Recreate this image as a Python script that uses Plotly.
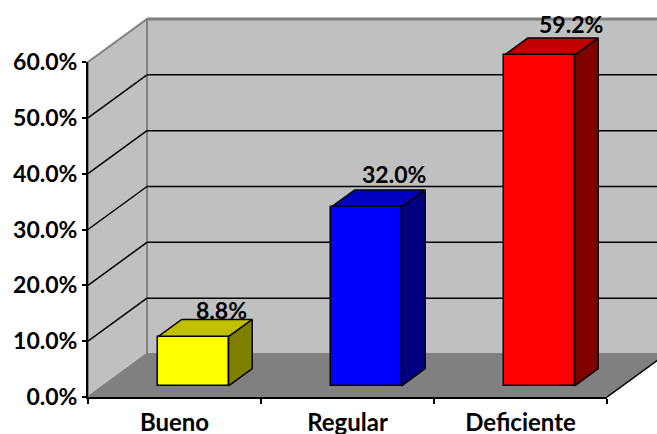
import plotly.graph_objects as go

categories = ["Bueno", "Regular", "Deficiente"]
values = [8.8, 32.0, 59.2]
labels = ["8.8%", "32.0%", "59.2%"]
front_colors = ["#FFFF00", "#0000FF", "#FF0000"]
top_colors = ["#C0C000", "#0000C0", "#C00000"]
side_colors = ["#808000", "#000080", "#800000"]
gridvals = [10, 20, 30, 40, 50, 60]
ticks = [0, 10, 20, 30, 40, 50, 60]
ticktext = ["0.0%", "10.0%", "20.0%", "30.0%", "40.0%", "50.0%", "60.0%"]

W, H = 657, 434
LEFT, RIGHT, BOTTOM, TOP = 88, 607, 397, 62
ux = (RIGHT - LEFT) / 3
uy = (BOTTOM - TOP) / 60
DX, DY = 59 / ux, 43 / uy
BAR_W = 70.5 / ux
BAR_SHIFT = 3.5 / ux
D0, D1 = 0.26, 0.66
FONT = "Lato"
TXT = "#000000"
EDGE = "#808080"


def P(c, v, d):
    return c + d * DX, v + d * DY


def poly(points, fill, line="#000000", lw=1.5):
    xs = [p[0] for p in points] + [points[0][0]]
    ys = [p[1] for p in points] + [points[0][1]]
    return go.Scatter(x=xs, y=ys, mode="lines", fill="toself", fillcolor=fill,
                      line=dict(color=line, width=lw), hoverinfo="skip", showlegend=False,
                      xaxis="x", yaxis="y")


def seg(a, b, color, lw):
    return go.Scatter(x=[a[0], b[0]], y=[a[1], b[1]], mode="lines",
                      line=dict(color=color, width=lw), hoverinfo="skip", showlegend=False,
                      xaxis="x", yaxis="y")


fig = go.Figure()
# walls and floor
fig.add_trace(poly([P(-0.5, 0, 1), P(2.5, 0, 1), P(2.5, 60, 1), P(-0.5, 60, 1)], "#C0C0C0", EDGE, 2))
fig.add_trace(poly([P(-0.5, 0, 0), P(-0.5, 0, 1), P(-0.5, 60, 1), P(-0.5, 60, 0)], "#C0C0C0", EDGE, 2))
for g in gridvals[:-1]:
    fig.add_trace(seg(P(-0.5, g, 0), P(-0.5, g, 1), "#000000", 1.5))
    fig.add_trace(seg(P(-0.5, g, 1), P(2.5, g, 1), "#000000", 1.5))
fig.add_trace(poly([P(-0.5, 0, 0), P(2.5, 0, 0), P(2.5, 0, 1), P(-0.5, 0, 1)], "#808080", EDGE, 1.5))
fig.add_trace(seg(P(2.5, 0, 0), P(2.5, 0, 1), "#000000", 1.5))
fig.add_trace(seg(P(-0.5, 60, 1), P(2.5, 60, 1), EDGE, 3))

# bar depth faces
for i, v in enumerate(values):
    l, r = i + BAR_SHIFT - BAR_W / 2, i + BAR_SHIFT + BAR_W / 2
    fig.add_trace(poly([P(l, v, D0), P(r, v, D0), P(r, v, D1), P(l, v, D1)], top_colors[i]))
    fig.add_trace(poly([P(r, 0, D0), P(r, 0, D1), P(r, v, D1), P(r, v, D0)], side_colors[i]))

# category axis and value axis with their labels
fig.add_trace(go.Scatter(x=categories, y=values, mode="none", hoverinfo="skip", showlegend=False,
                         xaxis="x2", yaxis="y2"))

# front faces, on an overlay above the depth faces
fig.add_trace(go.Bar(
    x=list(range(len(categories))), y=values, base=[D0 * DY] * 3, width=BAR_W,
    offset=D0 * DX + BAR_SHIFT - BAR_W / 2,
    marker=dict(color=front_colors, line=dict(color="#000000", width=1.5)),
    hoverinfo="skip", showlegend=False, xaxis="x3", yaxis="y3",
))

label_dx = [8, 8, 12]
label_dy = [-1, 6, 4]
for i, v in enumerate(values):
    x, y = P(i, v, D1)
    fig.add_annotation(x=x, y=y, xref="x", yref="y", text=labels[i], showarrow=False,
                       xanchor="center", yanchor="bottom", xshift=label_dx[i], yshift=label_dy[i] - 6,
                       font=dict(family=FONT, size=23, color=TXT, weight="bold"))

xr = [(0 - LEFT) / ux - 0.5, (W - LEFT) / ux - 0.5]
yr = [(BOTTOM - H) / uy, BOTTOM / uy]
fig.update_layout(
    width=W, height=H, autosize=False, margin=dict(l=0, r=0, t=0, b=0, pad=0, autoexpand=False),
    paper_bgcolor="#FFFFFF", plot_bgcolor="rgba(0,0,0,0)", bargap=0,
    xaxis=dict(domain=[0, 1], range=xr, visible=False, fixedrange=True),
    yaxis=dict(domain=[0, 1], range=yr, visible=False, fixedrange=True),
    xaxis3=dict(domain=[0, 1], range=xr, visible=False, fixedrange=True, anchor="y3"),
    yaxis3=dict(domain=[0, 1], range=yr, visible=False, fixedrange=True, anchor="x3"),
    xaxis2=dict(domain=[LEFT / W, RIGHT / W], anchor="y2", type="category", categoryorder="array",
                categoryarray=categories, range=[-0.5, 2.5], tickson="boundaries", ticks="outside",
                ticklen=5, tickwidth=1.5, tickcolor="#000000", showline=True, linecolor="#000000",
                linewidth=2, showgrid=False, zeroline=False, ticklabelstandoff=3, fixedrange=True,
                tickfont=dict(family=FONT, size=24, color=TXT, weight="bold")),
    yaxis2=dict(domain=[(H - BOTTOM) / H, (H - TOP) / H], anchor="x2", range=[0, 60], tickvals=ticks,
                ticktext=ticktext, ticks="outside", ticklen=4, tickwidth=1.5, tickcolor="#000000",
                showline=True, linecolor="#000000", linewidth=2, showgrid=False, zeroline=False,
                ticklabelstandoff=0, fixedrange=True,
                tickfont=dict(family=FONT, size=23, color=TXT, weight="bold")),
)
fig.write_html("out.html", config={"displayModeBar": False},
               post_script="document.body.style.margin='0';document.documentElement.style.overflow='hidden';")
